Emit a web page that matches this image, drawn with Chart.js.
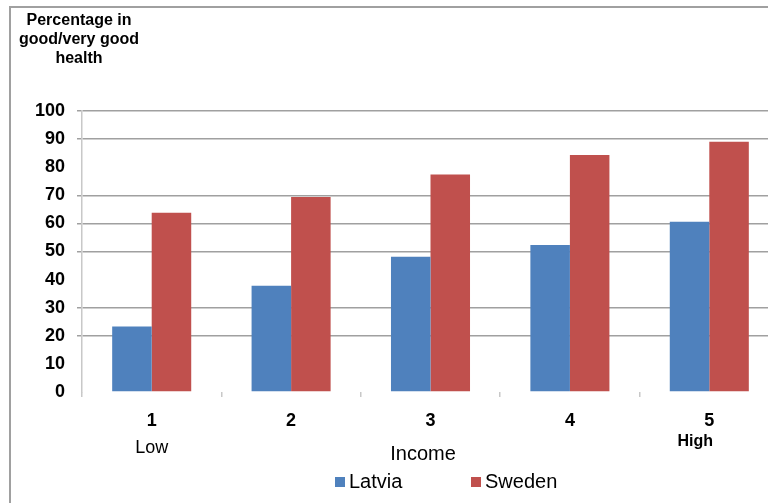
<!DOCTYPE html>
<html>
<head>
<meta charset="utf-8">
<script src="https://cdn.jsdelivr.net/npm/chart.js@4/dist/chart.umd.min.js"></script>
<style>
  html, body { margin: 0; padding: 0; background: #fff; }
  #wrap { width: 768px; height: 503px; overflow: hidden; position: relative; background: #fff; }
  canvas { display: block; }
</style>
</head>
<body>
<div id="wrap"><canvas id="c" width="790" height="503"></canvas></div>
<script>
// Income quintiles and share reporting good / very good health (%)
const categories = ['1', '2', '3', '4', '5'];
const latvia = [23.3, 37.8, 48.1, 52.3, 60.6];
const sweden = [63.8, 69.4, 77.4, 84.3, 89.1];
const seriesNames = ['Latvia', 'Sweden'];
const seriesColors = ['#4F81BD', '#C0504D'];
const yTicks = [0, 10, 20, 30, 40, 50, 60, 70, 80, 90, 100];
const hiddenGridValues = [0, 10, 40, 80];
const yTitleLines = ['Percentage in', 'good/very good', 'health'];
const lowLabel = 'Low';
const highLabel = 'High';
const xTitle = 'Income';

const FONT = "'Liberation Sans', Arial, sans-serif";

const annotations = {
  id: 'annotations',
  afterDraw(chart) {
    const ctx = chart.ctx;
    const x = chart.scales.x;
    ctx.save();

    // outer frame (top and left edges)
    ctx.strokeStyle = '#a0a0a0';
    ctx.lineWidth = 2;
    ctx.beginPath();
    ctx.moveTo(10, 503);
    ctx.lineTo(10, 7);
    ctx.lineTo(790, 7);
    ctx.stroke();

    // y-axis caption
    ctx.fillStyle = '#000';
    ctx.textAlign = 'center';
    ctx.textBaseline = 'middle';
    ctx.font = 'bold 16px ' + FONT;
    yTitleLines.forEach((t, i) => ctx.fillText(t, 79, 21 + i * 19));

    // end labels of the income scale
    ctx.font = '18px ' + FONT;
    ctx.fillText(lowLabel, x.getPixelForValue(0), 448);
    ctx.font = 'bold 16px ' + FONT;
    ctx.fillText(highLabel, x.getPixelForValue(4) - 14, 442);

    // x-axis caption
    ctx.font = '20px ' + FONT;
    ctx.fillText(xTitle, 423, 454);

    // legend
    ctx.font = '20px ' + FONT;
    ctx.textAlign = 'left';
    const legendX = [335, 471];
    chart.data.datasets.forEach((ds, i) => {
      ctx.fillStyle = ds.backgroundColor;
      ctx.fillRect(legendX[i], 477, 10, 10);
      ctx.fillStyle = '#000';
      ctx.fillText(ds.label, legendX[i] + 14, 482);
    });

    ctx.restore();
  }
};

new Chart(document.getElementById('c'), {
  type: 'bar',
  data: {
    labels: categories,
    datasets: [
      { label: seriesNames[0], data: latvia, backgroundColor: seriesColors[0] },
      { label: seriesNames[1], data: sweden, backgroundColor: seriesColors[1] }
    ]
  },
  options: {
    responsive: false,
    animation: false,
    events: [],
    layout: { padding: { left: 0, right: 11, top: 111, bottom: 0 } },
    datasets: { bar: { categoryPercentage: 0.567, barPercentage: 1.0 } },
    plugins: {
      legend: { display: false },
      tooltip: { enabled: false }
    },
    scales: {
      x: {
        offset: true,
        border: { display: false },
        grid: {
          offset: true,
          drawOnChartArea: false,
          drawTicks: true,
          tickLength: 5,
          color: '#c8c8c8',
          lineWidth: 1.5
        },
        ticks: {
          color: '#000',
          font: { family: FONT, size: 18, weight: 'bold' },
          padding: 13,
          maxRotation: 0
        },
        afterFit(scale) { scale.height = 111; }
      },
      y: {
        min: 0,
        max: 100,
        afterBuildTicks(scale) { scale.ticks = yTicks.map(v => ({ value: v })); },
        border: { display: true, color: '#c8c8c8', width: 1.5 },
        grid: {
          drawTicks: true,
          tickLength: 5,
          lineWidth: 1.5,
          color: (c) => (c.tick && hiddenGridValues.includes(c.tick.value)) ? 'rgba(0,0,0,0)' : '#a0a0a0'
        },
        ticks: {
          color: '#000',
          font: { family: FONT, size: 18, weight: 'bold' },
          padding: 12
        },
        afterFit(scale) { scale.width = 82; }
      }
    }
  },
  plugins: [annotations]
});
</script>
</body>
</html>
